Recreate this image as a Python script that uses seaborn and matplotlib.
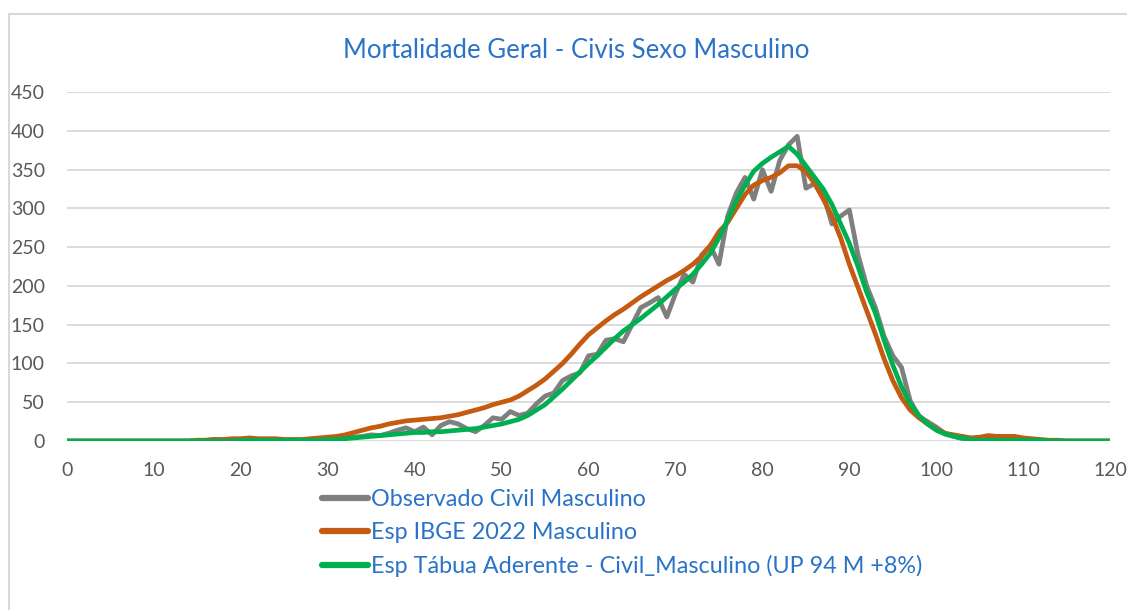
import numpy as np
import pandas as pd
import matplotlib
matplotlib.use("Agg")
import matplotlib.pyplot as plt
from matplotlib.patches import Rectangle
import seaborn as sns

# ------------------------------------------
# Data (deaths by age)
# ------------------------------------------
idades = list(range(0, 121))

observado = ([0] * 15 +
             [1, 1, 2, 1, 2, 2, 3, 2, 2, 1, 1, 1, 1, 2, 2,
              3, 3, 4, 5, 6, 8, 7, 10, 14, 17, 12, 18, 8, 20, 25,
              22, 16, 12, 20, 30, 28, 38, 33, 36, 48, 58, 62, 78, 84, 88,
              110, 112, 130, 132, 128, 150, 172, 178, 185, 160, 190, 215, 205, 240, 252,
              228, 290, 320, 340, 312, 350, 322, 362, 382, 393, 326, 332, 318, 280, 290,
              298, 240, 200, 172, 135, 110, 95, 52, 32, 25, 18, 10, 6, 3, 2,
              3, 4, 3, 2, 3, 2, 1, 1] +
             [0] * 8)

ibge = ([0] * 15 +
        [1, 1, 2, 2, 3, 3, 4, 3, 3, 3, 2, 2, 2, 3, 4,
         5, 6, 8, 11, 14, 17, 19, 22, 24, 26, 27, 28, 29, 30, 32,
         34, 37, 40, 43, 47, 50, 53, 58, 65, 72, 80, 90, 100, 112, 125,
         137, 146, 155, 163, 170, 178, 186, 193, 200, 207, 213, 220, 228, 238, 252,
         270, 282, 300, 318, 330, 336, 340, 346, 355, 355, 348, 332, 312, 290, 262,
         228, 198, 168, 138, 106, 78, 56, 40, 30, 22, 15, 10, 8, 6, 4,
         5, 7, 6, 6, 6, 4, 3, 2, 1, 1] +
        [0] * 6)

aderente = ([0] * 20 +
            [1] * 10 +
            [2, 2, 3, 4, 5, 6, 7, 8, 9, 10, 11, 11, 12, 12, 13,
             14, 15, 16, 18, 20, 22, 25, 28, 33, 40, 47, 57, 67, 78, 89,
             100, 110, 121, 132, 142, 150, 158, 167, 176, 186, 196, 205, 215, 228, 242,
             262, 285, 310, 330, 348, 358, 366, 373, 380, 370, 355, 340, 325, 305, 280,
             255, 225, 192, 165, 130, 98, 70, 48, 33, 22, 14, 9, 6, 4, 2] +
            [1] * 8 +
            [0] * 8)

series = {
    "Observado Civil Masculino": observado,
    "Esp IBGE 2022 Masculino": ibge,
    "Esp Tábua Aderente - Civil_Masculino (UP 94 M +8%)": aderente,
}
cores = ["#7f7f7f", "#c55a11", "#00b050"]

df = pd.DataFrame(series, index=idades)
df.index.name = "Idade"
dados = df.reset_index().melt(id_vars="Idade", var_name="Serie", value_name="Obitos")

# ------------------------------------------
# Plot
# ------------------------------------------
sns.set_style("white")
plt.rcParams["font.family"] = ["Lato", "DejaVu Sans"]

fig = plt.figure(figsize=(11.27, 6.10), dpi=100)
ax = fig.add_axes([0.0595, 0.277, 0.9255, 0.572])

sns.lineplot(data=dados, x="Idade", y="Obitos", hue="Serie",
             palette=cores, linewidth=3.4, ax=ax, legend=False,
             solid_joinstyle="round", solid_capstyle="round")

ax.set_xlim(0, 120)
ax.set_ylim(0, 450)
ax.set_xticks(range(0, 121, 10))
ax.set_yticks(range(0, 451, 50))
ax.yaxis.grid(True, color="#d9d9d9", linewidth=1.3)
ax.set_axisbelow(True)
for s in ax.spines.values():
    s.set_visible(False)
ax.tick_params(axis="both", length=0, labelsize=14, labelcolor="#595959")
ax.tick_params(axis="x", pad=15)
ax.tick_params(axis="y", pad=16)
ax.set_xlabel("")
ax.set_ylabel("")

fig.text(0.511, 0.918, "Mortalidade Geral - Civis Sexo Masculino",
         ha="center", va="center", fontsize=18.5, color="#2a73c9")

# legend
handles = [plt.Line2D([], [], color=c, linewidth=4.5, solid_capstyle="round") for c in cores]
leg = fig.legend(handles, list(series.keys()), loc="upper left",
                 bbox_to_anchor=(0.277, 0.213), frameon=False,
                 fontsize=16.8, handlelength=2.0, handletextpad=0.1,
                 labelspacing=0.5, borderaxespad=0)
for t in leg.get_texts():
    t.set_color("#2a73c9")

# chart border (left and top visible)
fig.patches.append(Rectangle((8.5 / 1127, -0.1), 1.2, 1.1 - 14 / 610,
                             transform=fig.transFigure, fill=False,
                             edgecolor="#d9d9d9", linewidth=1.5))

fig.savefig("out.png", dpi=100)
